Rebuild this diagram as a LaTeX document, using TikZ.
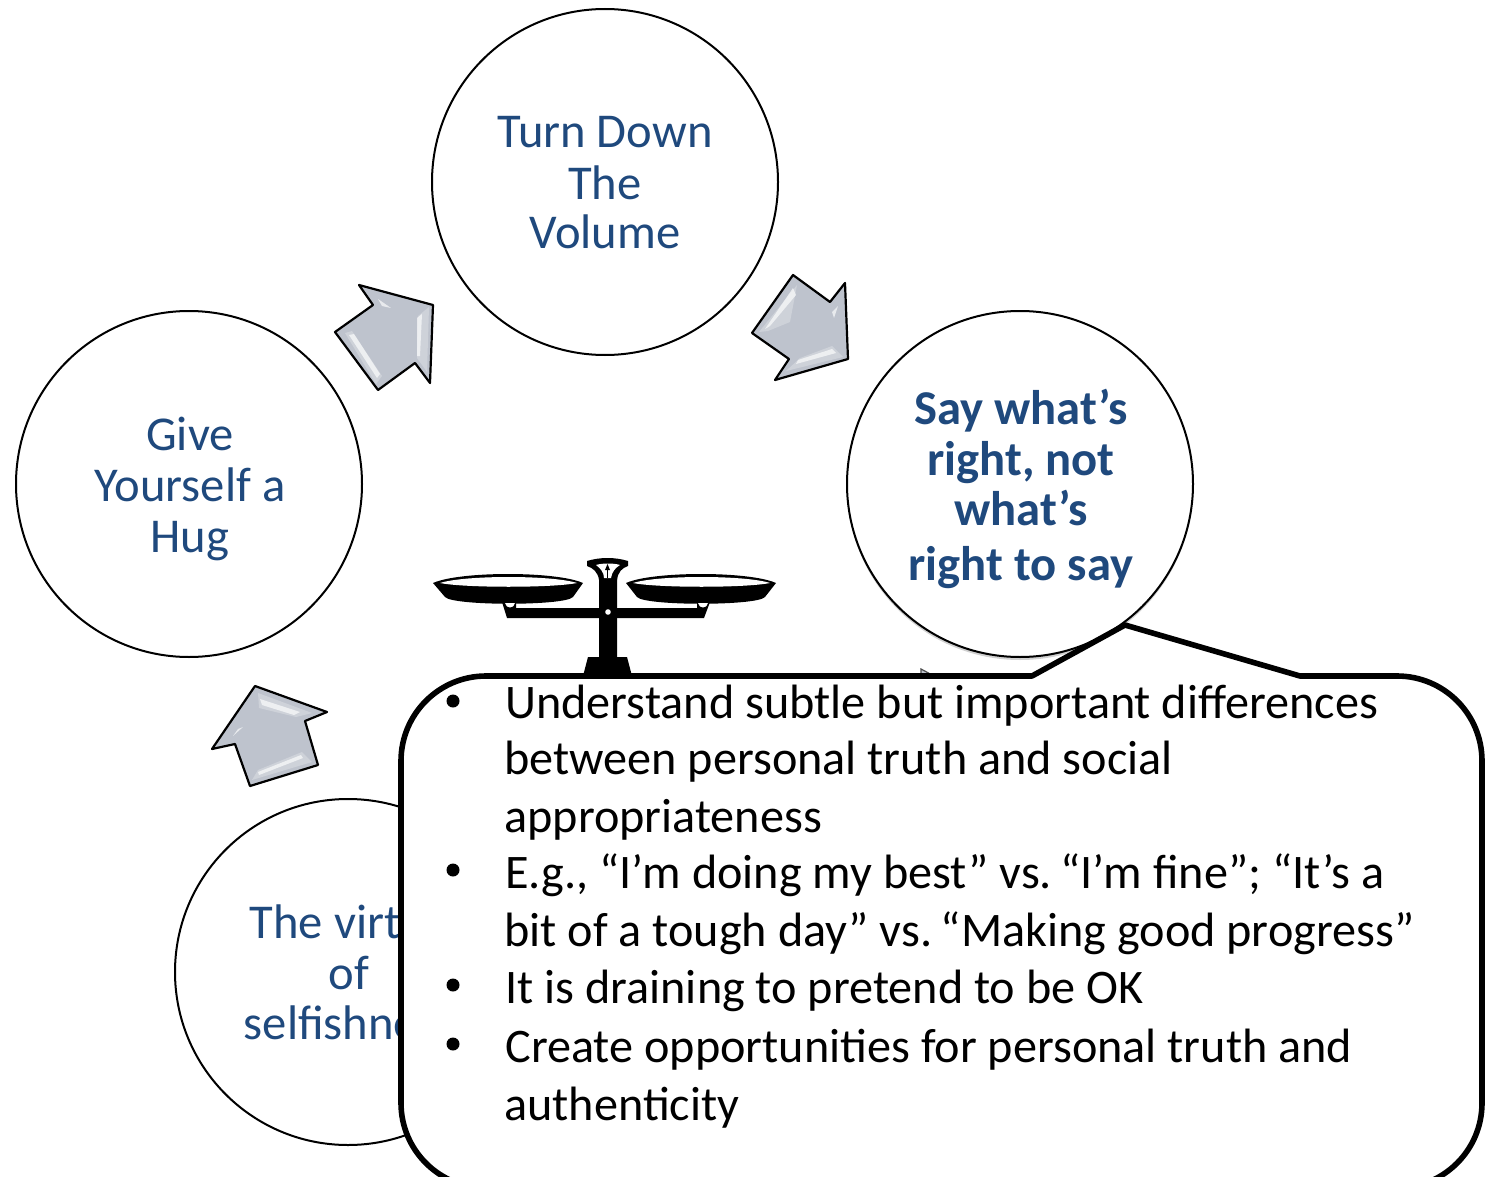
\documentclass[tikz,border=0pt]{standalone}
\usepackage{fontspec}
\setmainfont{Carlito}
\definecolor{navy}{HTML}{1F497D}
\definecolor{steel}{HTML}{BEC3CD}
\tikzset{
  stage/.style={circle,draw=black,line width=1pt,fill=white,minimum size=173pt,inner sep=0pt},
  stagetext/.style={anchor=base,text=navy,font=\fontsize{24.3}{28}\selectfont,inner sep=0pt},
  boldtext/.style={stagetext,font=\fontsize{24.3}{28}\selectfont\bfseries},
  bigarrow/.style={draw=black,line width=1.1pt,fill=steel,line join=round},
  shine/.style={fill=white,draw=none,opacity=.65},
  glow/.style={fill=white,draw=none,opacity=.25},
  bodytext/.style={anchor=base west,text=black,font=\fontsize{24.1}{27}\selectfont,inner sep=0pt},
  bullet/.style={circle,fill=black,minimum size=6.5pt,inner sep=0pt},
  ink/.style={fill=black,draw=none},
  callout/.style={draw=black,line width=2.8pt,fill=white,line join=round}
}
\begin{document}
\begin{tikzpicture}[x=0.5pt,y=-0.5pt]
\useasboundingbox (0,0) rectangle (1489,1177);
\clip (0,0) rectangle (1489,1177);
% circles
\node[stage] (top) at (605,182) {};
\node[stage] (left) at (189,484) {};
\fill[black,opacity=.18] (1020,487) circle[radius=173];
\node[stage] (right) at (1020,484) {};
\node[stage] (bottom) at (348,972) {};
% circle labels
\node[stagetext] (t1) at (605,148) {Turn Down};
\node[stagetext] (t2) at (605,199) {The};
\node[stagetext] (t3) at (605,249) {Volume};
\node[stagetext] (l1) at (190,450) {Give};
\node[stagetext] (l2) at (190,501) {Yourself a};
\node[stagetext] (l3) at (190,552) {Hug};
\node[boldtext] (r1) at (1021,424) {Say what’s};
\node[boldtext] (r2) at (1021,475) {right, not};
\node[boldtext] (r3) at (1021,525) {what’s};
\node[boldtext] (r4) at (1021,580) {right to say};
\node[stagetext] (b1) at (350,938) {The virtue};
\node[stagetext] (b2) at (349,989) {of};
\node[stagetext] (b3) at (350,1039) {selfishness};
% arrow top-left
\draw[bigarrow] (359,285)--(433,305)--(430,383)--(415,363)--(378,390)--(335,332)--(373,305)--cycle;
\fill[glow] (345,333)--(352,331)--(382,376)--(376,384)--cycle;
\fill[shine] (349,335)--(354,334)--(380,374)--(377,378)--cycle;
\fill[glow] (418,316)--(429,307)--(427,372)--(417,358)--cycle;
\fill[shine] (417,318)--(422,314)--(420,356)--(417,356)--cycle;
\fill[shine] (378,299)--(391,308)--(382,306)--cycle;
% arrow top-right
\draw[bigarrow] (793,275)--(830,302)--(845,283)--(848,359)--(775,380)--(789,359)--(752,333)--cycle;
\fill[glow] (797,285)--(790,322)--(768,331)--(759,332)--cycle;
\fill[shine] (796,295)--(770,326)--(765,329)--(793,288)--cycle;
\fill[glow] (800,358)--(832,346)--(843,357)--(786,371)--cycle;
\fill[shine] (798,360)--(832,349)--(836,353)--(796,364)--cycle;
\fill[shine] (838,306)--(834,318)--(832,312)--cycle;
% arrow bottom-left
\draw[bigarrow] (255,686)--(327,712)--(305,721)--(318,765)--(250,786)--(235,744)--(212,749)--cycle;
\fill[glow] (258,693)--(312,713)--(296,717)--(259,708)--cycle;
\fill[shine] (260,699)--(300,712)--(294,715)--(262,705)--cycle;
\fill[glow] (258,770)--(302,752)--(312,762)--(252,780)--cycle;
\fill[shine] (258,772)--(301,755)--(303,758)--(259,775)--cycle;
\fill[shine] (243,727)--(233,736)--(238,729)--cycle;
% hidden fourth arrow
\draw[draw=black!70,line width=.6pt,fill=steel] (921,669)--(960,690)--(921,700)--cycle;
% balance scale
\fill[ink] (433,583) .. controls (460,571) and (556,571) .. (583,583)
  -- (573,597) .. controls (565,606) and (453,606) .. (445,597) -- cycle;
\fill[white] (440,583) .. controls (465,575) and (552,575) .. (577,583)
  .. controls (552,588) and (465,588) .. (440,583) -- cycle;
\fill[ink] (626,583) .. controls (653,571) and (749,571) .. (776,583)
  -- (765,597) .. controls (757,606) and (645,606) .. (637,597) -- cycle;
\fill[white] (633,583) .. controls (658,575) and (745,575) .. (770,583)
  .. controls (745,588) and (658,588) .. (633,583) -- cycle;
\fill[ink] (502,602)--(516,602)--(516,608)--(697,608)--(697,602)--(710,602)--(704,618)--(507,618)--cycle;
\fill[white] (505,603) .. controls (506,609) and (514,609) .. (515,603) -- cycle;
\fill[white] (698,603) .. controls (699,609) and (707,609) .. (708,603) -- cycle;
\fill[ink] (599,575)--(617,575)--(617,657)--(627,657)--(632,676)--(583,676)--(588,657)--(599,657)--cycle;
\fill[ink] (587,561) .. controls (600,557) and (615,557) .. (628,561)
  -- (628,566) .. controls (622,568) and (618,572) .. (617,580) -- (599,580)
  .. controls (598,572) and (593,568) .. (587,566) -- cycle;
\fill[white] (596,565) .. controls (602,563) and (614,563) .. (620,565)
  .. controls (615,568) and (612,572) .. (611,578) -- (604,578)
  .. controls (604,572) and (600,568) .. (596,565) -- cycle;
\draw[black,line width=.5pt] (607.5,578)--(607.5,568);
\fill[ink] (607.5,564)--(605,570)--(610,570)--cycle;
\fill[white] (608,612) circle[radius=2.8];
% callout
\draw[callout] (486,676)--(1032,676)--(1125,625)--(1300,676)--(1397,676)
  arc[start angle=-90,end angle=0,radius=85]
  --(1482,1103) arc[start angle=0,end angle=90,radius=85]
  --(486,1188) arc[start angle=90,end angle=180,radius=85]
  --(401,761) arc[start angle=180,end angle=270,radius=85]--cycle;
% callout text
\node[bullet] (d1) at (453,701) {};
\node[bodytext] (c1) at (505,718) {Understand subtle but important differences};
\node[bodytext] (c2) at (504,774) {between personal truth and social};
\node[bodytext] (c3) at (504,832) {appropriateness};
\node[bullet] (d2) at (453,870) {};
\node[bodytext] (c4) at (505,888) {E.g., “I’m doing my best” vs. \kern-3pt“I’m fine”; “It’s a};
\node[bodytext] (c5) at (504,946) {bit of a tough day” vs. \kern-3pt“Making good progress”};
\node[bullet] (d3) at (453,985) {};
\node[bodytext] (c6) at (505,1003) {It is draining to pretend to be OK};
\node[bullet] (d4) at (453,1044) {};
\node[bodytext] (c7) at (505,1062) {Create opportunities for personal truth and};
\node[bodytext] (c8) at (504,1120) {authenticity};
\end{tikzpicture}
\end{document}
